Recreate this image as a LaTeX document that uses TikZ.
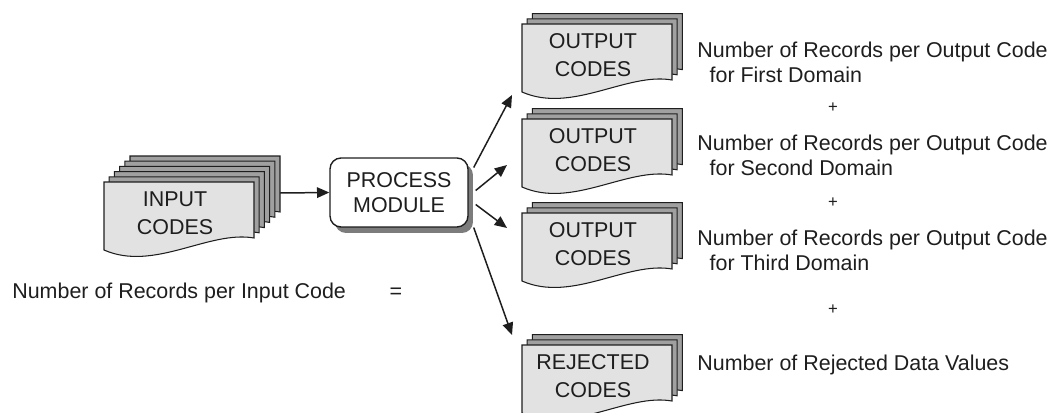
\documentclass[tikz,border=0pt]{standalone}
\usepackage{fontspec}
\setmainfont{Liberation Sans}
\usetikzlibrary{positioning,arrows.meta,shadows}
\definecolor{codeink}{HTML}{1E1E1E}
\definecolor{codefront}{HTML}{E2E2E2}
\definecolor{codeback}{HTML}{A0A0A0}
\definecolor{modshadow}{HTML}{7C7C7C}

% one code sheet, top-left corner at the origin
\newcommand{\sheetpath}{(0,0) -- (150,0) -- (150,56) .. controls (105,48) and (50,90) .. (0,68) -- cycle}
% stack of sheets: #1 top-left of the front sheet, #2 sheets behind it
\newcommand{\codestack}[2]{%
  \begin{scope}[shift={#1}]
    \foreach \k in {#2,...,1}
      \draw[sheet,fill=codeback,shift={(5.2*\k,-5.2*\k)}] \sheetpath;
    \draw[sheet,fill=codefront] \sheetpath;
  \end{scope}}

\begin{document}
\begin{tikzpicture}[
  x=0.02cm, y=-0.02cm,
  font=\fontsize{12.2}{14.4}\selectfont,
  sheet/.style={draw=codeink,line width=0.6pt},
  codes/.style={align=center,inner sep=0pt,text=codeink,
                font=\fontsize{12.2}{16}\selectfont},
  module/.style={draw=codeink,fill=white,rounded corners=0.22cm,align=center,
                 line width=0.8pt,minimum width=2.76cm,minimum height=1.38cm,
                 text=codeink,font=\fontsize{12.2}{14.4}\selectfont,
                 drop shadow={shadow xshift=0.1cm,shadow yshift=-0.12cm,
                              fill=modshadow,opacity=1}},
  note/.style={align=left,inner sep=0pt,text=codeink},
  plus/.style={inner sep=0pt,text=codeink,font=\fontsize{9.5}{11}\selectfont},
  arr/.style={-{Triangle[length=7pt,width=6pt]},codeink,line width=0.85pt}
]
\useasboundingbox (0,0) rectangle (1060,412);
\clip (0,0) rectangle (1060,412);

% sheet stacks
\codestack{(104,182)}{5}
\codestack{(522,24)}{2}
\codestack{(522,119)}{2}
\codestack{(522,213)}{2}
\codestack{(522,345)}{2}

\node[codes] (in)   at (175,213) {INPUT\\CODES};
\node[codes] (out1) at (593,55)  {OUTPUT\\CODES};
\node[codes] (out2) at (593,150) {OUTPUT\\CODES};
\node[codes] (out3) at (593,244) {OUTPUT\\CODES};
\node[codes] (rej)  at (593,376) {REJECTED\\CODES};

\node[module] (proc) at (399,192.5) {PROCESS\\MODULE};

% record counts
\node[note,anchor=west] (total) at (12,293) {Number of Records per Input Code};
\node[note] (eq) at (396,293) {=};
\node[note,anchor=west] (n1) at (697,62.5)
  {Number of Records per Output Code\\\hspace*{7pt}for First Domain};
\node[plus] (p1) at (833,108) {+};
\node[note,anchor=west] (n2) at (697,155.5)
  {Number of Records per Output Code\\\hspace*{7pt}for Second Domain};
\node[plus] (p2) at (833,203) {+};
\node[note,anchor=west] (n3) at (697,250.5)
  {Number of Records per Output Code\\\hspace*{7pt}for Third Domain};
\node[plus] (p3) at (833,310) {+};
\node[note,anchor=west] (n4) at (697,365) {Number of Rejected Data Values};

\draw[arr] ([shift={(105,-20)}]in.center) -- (proc.west);
\draw[arr] ([shift={(5,-25)}]proc.east) -- ([shift={(-81,40)}]out1.center);
\draw[arr] ([shift={(7,-2)}]proc.east) -- ([shift={(-86,15)}]out2.center);
\draw[arr] ([shift={(7,12)}]proc.east) -- ([shift={(-86,-16)}]out3.center);
\draw[arr] ([shift={(5,35)}]proc.east) -- ([shift={(-81,-41)}]rej.center);
\end{tikzpicture}
\end{document}
